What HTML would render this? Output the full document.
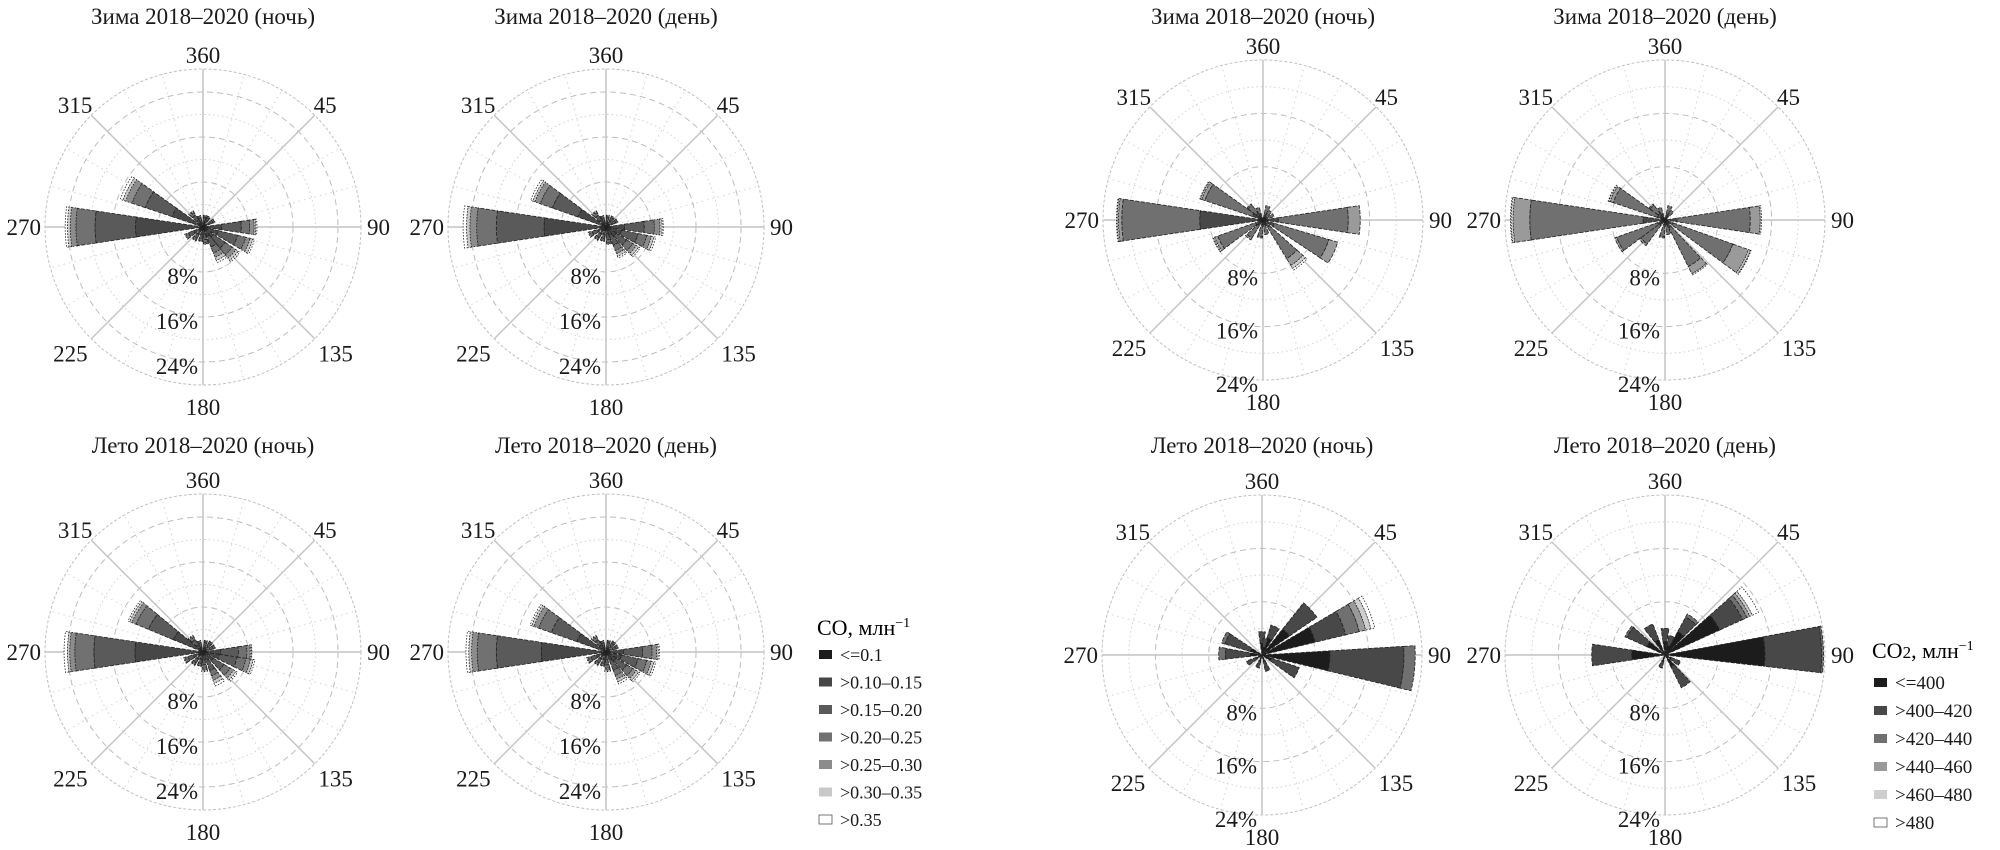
<!DOCTYPE html>
<html><head><meta charset="utf-8">
<style>
html,body{margin:0;padding:0;background:#fff;}
svg{display:block;font-family:"Liberation Serif","Noto Serif CJK SC",serif;}
</style></head>
<body>
<svg id="fig" width="2000" height="850" viewBox="0 0 2000 850" xmlns="http://www.w3.org/2000/svg">
<g id="charts"></g>
<g id="legend-co">
  <text x="817" y="635" font-size="22">CO, млн<tspan dy="-8" font-size="14">−1</tspan></text>
</g>
<g id="legend-co2">
  <text x="1872" y="658" font-size="22">CO<tspan font-size="17" dy="0">2</tspan>, млн<tspan dy="-8" font-size="14">−1</tspan></text>
</g>
</svg>
<script>
// ---------- data ----------
const coBinLabels = ["<=0.1", ">0.10–0.15", ">0.15–0.20", ">0.20–0.25", ">0.25–0.30", ">0.30–0.35", ">0.35"];
const co2BinLabels = ["<=400", ">400–420", ">420–440", ">440–460", ">460–480", ">480"];
const coColors = ["#1c1c1c", "#474747", "#5a5a5a", "#717171", "#8c8c8c", "#c8c8c8", "#ffffff"];
const co2Colors = ["#1c1c1c", "#484848", "#707070", "#9a9a9a", "#cfcfcf", "#ffffff"];
const angleTicks = [360, 45, 90, 135, 180, 225, 270, 315];
const pctTicks = [8, 16, 24];

// CO winter night
const coWinterNightDirs = [270, 297, 90, 112, 133, 150, 320, 340, 10, 30, 60, 170, 190, 215, 240];
const coWinterNightBins = [
  [0.5, 11.5, 7.2, 3.4, 1.0, 0.5, 0.4],
  [0.3, 5.5, 5.0, 2.5, 1.2, 0.5, 0.5],
  [0.3, 3.0, 3.5, 1.5, 0.8, 0.3, 0.2],
  [0.3, 2.5, 3.5, 1.5, 0.8, 0.5, 0.3],
  [0.3, 2.0, 2.5, 1.5, 0.8, 0.5, 0.3],
  [0.3, 1.5, 2.0, 1.2, 0.8, 0.6, 0.4],
  [0.3, 1.2, 1.0, 0.5, 0.2, 0.1, 0.1],
  [0.3, 0.8, 0.6, 0.3, 0.1, 0, 0],
  [0.3, 0.8, 0.6, 0.3, 0.1, 0, 0],
  [0.3, 1.0, 0.5, 0.3, 0, 0, 0],
  [0.3, 1.0, 0.6, 0.3, 0.1, 0, 0],
  [0.3, 1.0, 1.0, 0.5, 0.2, 0.1, 0],
  [0.3, 1.0, 0.8, 0.4, 0.1, 0, 0],
  [0.3, 1.2, 0.8, 0.4, 0.1, 0, 0],
  [0.3, 1.5, 1.0, 0.5, 0.2, 0, 0]
];
// CO winter day
const coWinterDayDirs = [270, 298, 90, 110, 130, 150, 320, 340, 10, 35, 60, 170, 195, 220, 245];
const coWinterDayBins = [
  [0.5, 10.5, 8.5, 3.5, 1.2, 0.6, 0.6],
  [0.3, 5.0, 4.8, 2.3, 1.0, 0.4, 0.4],
  [0.3, 3.0, 3.5, 1.8, 1.0, 0.4, 0.2],
  [0.3, 2.5, 3.0, 1.6, 0.8, 0.5, 0.3],
  [0.3, 1.8, 2.2, 1.3, 0.7, 0.5, 0.3],
  [0.3, 1.4, 1.8, 1.0, 0.6, 0.5, 0.3],
  [0.3, 1.2, 1.0, 0.5, 0.2, 0.1, 0.1],
  [0.3, 0.8, 0.6, 0.3, 0.1, 0, 0],
  [0.3, 0.8, 0.6, 0.3, 0.1, 0, 0],
  [0.3, 1.0, 0.6, 0.3, 0, 0, 0],
  [0.3, 1.0, 0.6, 0.3, 0.1, 0, 0],
  [0.3, 1.0, 1.0, 0.5, 0.2, 0.1, 0],
  [0.3, 1.0, 0.8, 0.4, 0.1, 0, 0],
  [0.3, 1.2, 0.8, 0.4, 0.1, 0, 0],
  [0.3, 1.3, 1.0, 0.5, 0.2, 0, 0]
];
// CO summer night
const coSummerNightDirs = [270, 301, 90, 107, 129, 152, 175, 320, 340, 15, 40, 65, 195, 220, 245];
const coSummerNightBins = [
  [0.5, 11.6, 7.3, 3.4, 0.9, 0.4, 0.6],
  [0.3, 5.4, 4.8, 2.4, 0.8, 0.4, 0.3],
  [0.3, 2.8, 3.2, 1.5, 0.6, 0.2, 0.1],
  [0.3, 2.6, 3.2, 1.6, 0.8, 0.5, 0.3],
  [0.3, 1.8, 2.2, 1.3, 0.7, 0.5, 0.3],
  [0.3, 1.4, 1.8, 1.0, 0.8, 0.6, 0.5],
  [0.3, 1.0, 1.0, 0.6, 0.3, 0.2, 0.1],
  [0.3, 1.2, 1.1, 0.5, 0.2, 0.1, 0.1],
  [0.3, 0.8, 0.6, 0.3, 0.1, 0, 0],
  [0.3, 0.8, 0.6, 0.3, 0.1, 0, 0],
  [0.3, 1.0, 0.6, 0.3, 0.1, 0, 0],
  [0.3, 1.0, 0.6, 0.3, 0.1, 0, 0],
  [0.3, 1.0, 0.8, 0.4, 0.1, 0, 0],
  [0.3, 1.2, 0.8, 0.4, 0.1, 0, 0],
  [0.3, 1.5, 1.0, 0.5, 0.2, 0.1, 0]
];
// CO summer day
const coSummerDayDirs = [270, 298, 90, 110, 130, 150, 175, 320, 340, 15, 40, 65, 195, 220, 245];
const coSummerDayBins = [
  [0.5, 11.0, 8.0, 3.4, 1.0, 0.5, 0.5],
  [0.3, 5.2, 4.8, 2.4, 0.9, 0.4, 0.3],
  [0.3, 2.8, 3.4, 1.7, 0.8, 0.3, 0.2],
  [0.3, 2.5, 3.0, 1.6, 0.8, 0.5, 0.3],
  [0.3, 1.8, 2.2, 1.3, 0.7, 0.5, 0.3],
  [0.3, 1.4, 1.8, 1.0, 0.7, 0.5, 0.4],
  [0.3, 1.0, 1.0, 0.6, 0.3, 0.2, 0.1],
  [0.3, 1.2, 1.1, 0.5, 0.2, 0.1, 0.1],
  [0.3, 0.8, 0.6, 0.3, 0.1, 0, 0],
  [0.3, 0.8, 0.6, 0.3, 0.1, 0, 0],
  [0.3, 1.0, 0.6, 0.3, 0.1, 0, 0],
  [0.3, 1.0, 0.6, 0.3, 0.1, 0, 0],
  [0.3, 1.0, 0.8, 0.4, 0.1, 0, 0],
  [0.3, 1.2, 0.8, 0.4, 0.1, 0, 0],
  [0.3, 1.5, 1.0, 0.5, 0.2, 0.1, 0]
];
// CO2 winter night
const co2WinterNightDirs = [270, 297, 242, 90, 115, 140, 315, 335, 20, 40, 65, 165, 190, 220];
const co2WinterNightBins = [
  [0.3, 9.2, 11.7, 0.5, 0.2, 0.1],
  [0.2, 1.5, 7.5, 0.5, 0.2, 0.1],
  [0.2, 1.0, 6.0, 0.5, 0.2, 0.1],
  [0.3, 2.0, 10.5, 1.8, 0, 0],
  [0.3, 1.5, 8.5, 1.4, 0, 0],
  [0.3, 1.0, 5.5, 1.2, 0.5, 0.3],
  [0.3, 1.0, 1.5, 0.2, 0, 0],
  [0.2, 0.8, 1.0, 0, 0, 0],
  [0.2, 0.8, 1.2, 0, 0, 0],
  [0.2, 0.5, 1.0, 0, 0, 0],
  [0.2, 0.5, 1.0, 0, 0, 0],
  [0.2, 0.5, 1.5, 0, 0, 0],
  [0.2, 0.5, 1.8, 0.2, 0, 0],
  [0.2, 0.8, 2.2, 0.3, 0, 0]
];
// CO2 winter day
const co2WinterDayDirs = [270, 297, 242, 90, 118, 145, 225, 315, 335, 20, 40, 165, 190];
const co2WinterDayBins = [
  [0.3, 3.0, 17.0, 2.5, 0.3, 0.1],
  [0.2, 1.0, 7.0, 0.5, 0.2, 0.1],
  [0.2, 1.0, 6.5, 0.3, 0, 0],
  [0.3, 1.5, 11.0, 1.5, 0.2, 0],
  [0.3, 1.0, 9.5, 2.5, 0.3, 0.1],
  [0.3, 1.0, 6.5, 1.2, 0.2, 0],
  [0.2, 0.8, 3.5, 0.3, 0, 0],
  [0.3, 1.0, 1.5, 0.2, 0, 0],
  [0.2, 0.8, 1.0, 0, 0, 0],
  [0.2, 0.8, 1.2, 0, 0, 0],
  [0.2, 0.5, 1.0, 0, 0, 0],
  [0.2, 0.5, 1.5, 0, 0, 0],
  [0.2, 0.5, 1.8, 0.2, 0, 0]
];
// CO2 summer night
const co2SummerNightDirs = [95, 68, 47, 25, 0, 295, 272, 117, 160, 200, 240, 12];
const co2SummerNightBins = [
  [10.2, 11.1, 1.7, 0, 0, 0],
  [8.2, 4.7, 2.1, 1.0, 0.8, 0.6],
  [5.0, 5.0, 0, 0, 0, 0],
  [2.7, 2.0, 0, 0, 0, 0],
  [1.8, 1.7, 0, 0, 0, 0],
  [1.8, 4.0, 0.5, 0, 0, 0],
  [1.8, 3.7, 1.0, 0, 0, 0],
  [1.5, 4.4, 0, 0, 0, 0],
  [1.0, 1.5, 0, 0, 0, 0],
  [1.0, 1.0, 0, 0, 0, 0],
  [1.0, 1.5, 0, 0, 0, 0],
  [1.2, 1.3, 0, 0, 0, 0]
];
// CO2 summer day
const co2SummerDayDirs = [88, 57, 37, 270, 303, 330, 0, 145, 200, 120, 20];
const co2SummerDayBins = [
  [15.0, 8.5, 0.3, 0, 0, 0],
  [9.0, 3.8, 0.7, 0.5, 0.4, 1.0],
  [4.0, 2.5, 0.5, 0, 0, 0],
  [5.0, 6.0, 0, 0, 0, 0],
  [3.0, 3.3, 0.3, 0, 0, 0],
  [2.5, 2.5, 0, 0, 0, 0],
  [2.0, 2.0, 0, 0, 0, 0],
  [2.0, 3.5, 0, 0, 0, 0],
  [1.0, 1.0, 0, 0, 0, 0],
  [1.0, 1.5, 0, 0, 0, 0],
  [1.5, 1.5, 0, 0, 0, 0]
];

// ---------- layout ----------
const charts = [
  {id:"co-winter-night", title:"Зима 2018–2020 (ночь)", cx:203, cy:227, R:158, ringR:45, ty:24, dirs:coWinterNightDirs, bins:coWinterNightBins, colors:coColors},
  {id:"co-winter-day", title:"Зима 2018–2020 (день)", cx:606, cy:227, R:158, ringR:45, ty:24, dirs:coWinterDayDirs, bins:coWinterDayBins, colors:coColors},
  {id:"co-summer-night", title:"Лето 2018–2020 (ночь)", cx:203, cy:652, R:158, ringR:45, ty:453, dirs:coSummerNightDirs, bins:coSummerNightBins, colors:coColors},
  {id:"co-summer-day", title:"Лето 2018–2020 (день)", cx:606, cy:652, R:158, ringR:45, ty:453, dirs:coSummerDayDirs, bins:coSummerDayBins, colors:coColors},
  {id:"co2-winter-night", title:"Зима 2018–2020 (ночь)", cx:1263, cy:220, R:160, ringR:53.3, ty:24, dirs:co2WinterNightDirs, bins:co2WinterNightBins, colors:co2Colors},
  {id:"co2-winter-day", title:"Зима 2018–2020 (день)", cx:1665, cy:220, R:160, ringR:53.3, ty:24, dirs:co2WinterDayDirs, bins:co2WinterDayBins, colors:co2Colors},
  {id:"co2-summer-night", title:"Лето 2018–2020 (ночь)", cx:1262, cy:655, R:160, ringR:53.3, ty:453, dirs:co2SummerNightDirs, bins:co2SummerNightBins, colors:co2Colors},
  {id:"co2-summer-day", title:"Лето 2018–2020 (день)", cx:1665, cy:655, R:160, ringR:53.3, ty:453, dirs:co2SummerDayDirs, bins:co2SummerDayBins, colors:co2Colors}
];

const NS = "http://www.w3.org/2000/svg";
function mk(tag, attrs, parent){
  const e = document.createElementNS(NS, tag);
  for (const k in attrs) e.setAttribute(k, attrs[k]);
  if (parent) parent.appendChild(e);
  return e;
}
function pt(c, bearing, r){
  const a = (bearing - 90) * Math.PI / 180;
  return [c.cx + r * Math.cos(a), c.cy + r * Math.sin(a)];
}
function rScale(c, pct){ return pct / 8 * c.ringR; }
function sector(c, dir, r0, r1, half){
  const a0 = dir - half, a1 = dir + half;
  const p1 = pt(c, a0, r1), p2 = pt(c, a1, r1), p3 = pt(c, a1, r0), p4 = pt(c, a0, r0);
  let d = `M${p4[0].toFixed(2)},${p4[1].toFixed(2)} L${p1[0].toFixed(2)},${p1[1].toFixed(2)} A${r1},${r1} 0 0 1 ${p2[0].toFixed(2)},${p2[1].toFixed(2)} L${p3[0].toFixed(2)},${p3[1].toFixed(2)}`;
  if (r0 > 0) d += ` A${r0},${r0} 0 0 0 ${p4[0].toFixed(2)},${p4[1].toFixed(2)}`;
  return d + "Z";
}

const root = document.getElementById("charts");
charts.forEach(c => {
  const g = mk("g", {}, root);
  
  

  const t = mk("text", {x:c.cx, y:c.ty, "text-anchor":"middle", "font-size":23, fill:"#1a1a1a"}, g);
  
  
  t.textContent = c.title;

  const grid = mk("g", {}, g);
  
  
  for (let b = 0; b < 360; b += 15) {
    if (b % 45 === 0) continue;
    const p = pt(c, b, c.R);
    mk("line", {x1:c.cx, y1:c.cy, x2:p[0], y2:p[1], stroke:"#d2d2d2", "stroke-width":1, "stroke-dasharray":"1.5,4"}, grid);
  }
  for (let k = 1; k <= 6; k++) {
    const r = c.ringR * k / 2;
    if (r > c.R - 2) break;
    mk("circle", {cx:c.cx, cy:c.cy, r:r, fill:"none", stroke:(k%2===0?"#bdbdbd":"#d2d2d2"), "stroke-width":1, "stroke-dasharray":(k%2===0?"6,4":"1.5,3")}, grid);
  }
  mk("circle", {cx:c.cx, cy:c.cy, r:c.R, fill:"none", stroke:"#c0c0c0", "stroke-width":1, "stroke-dasharray":"3,2"}, grid);
  [0, 45, 90, 135].forEach(b => {
    const p = pt(c, b, c.R), q = pt(c, b + 180, c.R);
    mk("line", {x1:q[0], y1:q[1], x2:p[0], y2:p[1], stroke:"#c4c4c4", "stroke-width":1.5}, grid);
  });

  const petals = mk("g", {}, g);
  
  
  const half = 8.5;
  c.dirs.forEach((dir, i) => {
    let cum = 0;
    const vals = c.bins[i];
    vals.forEach((v, j) => {
      if (v <= 0) return;
      const r0 = rScale(c, cum), r1 = rScale(c, cum + v);
      cum += v;
      const s = mk("path", {d:sector(c, dir, r0, r1, half), fill:c.colors[j], stroke:"#222", "stroke-width":0.8, "stroke-dasharray":(j >= 4 ? "1.5,1.5" : "4,1.5")}, petals);
      
      
    });
  });

  const labs = mk("g", {"font-size":23, fill:"#1a1a1a"}, g);
  
  
  angleTicks.forEach(a => {
    let x, y, anchor;
    const R = c.R;
    if (a === 360) { x = c.cx; y = c.cy - R - 6; anchor = "middle"; }
    else if (a === 180) { x = c.cx; y = c.cy + R + 30; anchor = "middle"; }
    else if (a === 90) { x = c.cx + R + 6; y = c.cy + 8; anchor = "start"; }
    else if (a === 270) { x = c.cx - R - 4; y = c.cy + 8; anchor = "end"; }
    else if (a === 45) { x = c.cx + 0.70 * R; y = c.cy - 0.72 * R; anchor = "start"; }
    else if (a === 315) { x = c.cx - 0.70 * R; y = c.cy - 0.72 * R; anchor = "end"; }
    else if (a === 135) { x = c.cx + 0.73 * R; y = c.cy + 0.85 * R; anchor = "start"; }
    else { x = c.cx - 0.73 * R; y = c.cy + 0.85 * R; anchor = "end"; }
    const tx = mk("text", {x:x, y:y, "text-anchor":anchor}, labs);
    
    
    tx.textContent = String(a);
  });
  pctTicks.forEach(p => {
    const r = rScale(c, p);
    const tx = mk("text", {x:c.cx - 5, y:c.cy + r + 12, "text-anchor":"end"}, labs);
    
    
    tx.textContent = p + "%";
  });
});

function legend(gid, labels, colors, x, y0, step, fs){
  const g = document.getElementById(gid);
  labels.forEach((l, i) => {
    const y = y0 + i * step;
    const r = mk("rect", {x:x, y:y - 5, width:13, height:9, fill:colors[i], stroke:(i === labels.length - 1 ? "#555" : "none"), "stroke-width":0.8}, g);
    
    
    const t = mk("text", {x:x + 21, y:y + 6, "font-size":fs, fill:"#1a1a1a"}, g);
    
    
    t.textContent = l;
  });
}
legend("legend-co", coBinLabels, coColors, 819, 655, 27.5, 18);
legend("legend-co2", co2BinLabels, co2Colors, 1874, 683, 28, 19);
</script>
</body></html>
